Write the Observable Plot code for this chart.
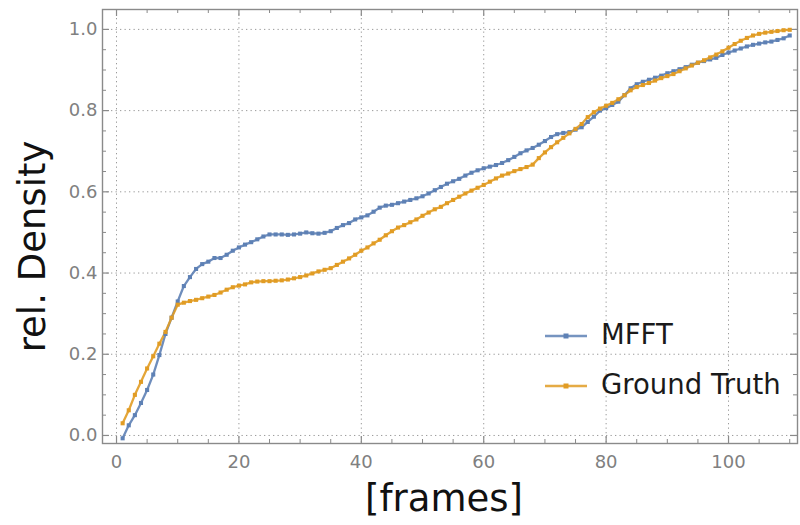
<!DOCTYPE html>
<html><head><meta charset="utf-8">
<script src="https://cdn.jsdelivr.net/npm/d3@7"></script>
<script src="https://cdn.jsdelivr.net/npm/@observablehq/plot@0.6"></script>
<style>
body{margin:0;background:#fff;}
#wrap{position:relative;width:800px;height:525px;overflow:hidden;}
#legend{position:absolute;left:0;top:0;pointer-events:none;}
</style></head><body><div id="wrap"></div>
<script>
// ---- data ----
const seriesNames = ["MFFT", "Ground Truth"];
const seriesColors = ["#5E81B5", "#E19C24"];
const frames = d3.range(1, 111);
const mfft = [
 -0.007,0.025,0.05,0.08,0.112,0.15,0.198,0.25,0.29,0.33,
 0.368,0.39,0.41,0.422,0.428,0.437,0.437,0.445,0.455,0.463,
 0.47,0.476,0.483,0.49,0.495,0.495,0.495,0.494,0.495,0.497,
 0.5,0.498,0.497,0.499,0.503,0.511,0.518,0.523,0.532,0.537,
 0.542,0.551,0.561,0.566,0.568,0.572,0.576,0.58,0.584,0.589,
 0.596,0.604,0.612,0.62,0.626,0.632,0.64,0.647,0.653,0.658,
 0.662,0.666,0.671,0.678,0.686,0.695,0.702,0.708,0.716,0.725,
 0.735,0.742,0.745,0.747,0.753,0.759,0.772,0.785,0.8,0.806,
 0.814,0.822,0.838,0.855,0.865,0.871,0.876,0.881,0.886,0.892,
 0.897,0.902,0.907,0.913,0.918,0.922,0.926,0.93,0.937,0.943,
 0.948,0.953,0.958,0.962,0.965,0.968,0.97,0.974,0.978,0.985
];
const groundTruth = [
 0.03,0.062,0.1,0.132,0.165,0.195,0.226,0.255,0.29,0.322,
 0.327,0.331,0.334,0.338,0.342,0.346,0.352,0.359,0.365,0.369,
 0.372,0.377,0.379,0.38,0.38,0.381,0.382,0.384,0.387,0.39,
 0.394,0.399,0.404,0.408,0.412,0.42,0.428,0.436,0.445,0.455,
 0.463,0.473,0.482,0.493,0.503,0.512,0.518,0.525,0.532,0.541,
 0.549,0.557,0.563,0.572,0.58,0.588,0.596,0.603,0.61,0.617,
 0.625,0.633,0.64,0.645,0.651,0.656,0.661,0.667,0.683,0.697,
 0.71,0.722,0.733,0.744,0.755,0.767,0.784,0.796,0.805,0.812,
 0.819,0.828,0.838,0.85,0.858,0.863,0.868,0.874,0.88,0.885,
 0.89,0.897,0.904,0.911,0.918,0.924,0.931,0.938,0.946,0.955,
 0.964,0.972,0.979,0.985,0.989,0.992,0.994,0.996,0.998,0.999
];
const xMajor = [0, 20, 40, 60, 80, 100];
const xMinor = [5,10,15,25,30,35,45,50,55,65,70,75,85,90,95,105,110];
const yMajor = [0, 0.2, 0.4, 0.6, 0.8, 1.0];
const yMinor = [0.05,0.1,0.15,0.25,0.3,0.35,0.45,0.5,0.55,0.65,0.7,0.75,0.85,0.9,0.95];
const xTitle = "[frames]";
const yTitle = "rel. Density";

// ---- build ----
const rows = [
  ...frames.map((f, i) => ({frame: f, value: mfft[i], series: seriesNames[0]})),
  ...frames.map((f, i) => ({frame: f, value: groundTruth[i], series: seriesNames[1]}))
];
const W = 800, H = 525, mL = 102, mR = 3, mT = 9, mB = 82;
const iw = W - mL - mR, ih = H - mT - mB;
const axisGray = "#8a8a8a";
const font = "DejaVu Sans, sans-serif";

const chart = Plot.plot({
  width: W, height: H,
  marginLeft: mL, marginRight: mR, marginTop: mT, marginBottom: mB,
  style: {fontFamily: font, background: "white", overflow: "visible"},
  x: {domain: [-2.29, 111.27]},
  y: {domain: [-0.0198, 1.049]},
  color: {domain: seriesNames, range: seriesColors},
  marks: [
    Plot.gridX(xMajor, {stroke: "#9a9a9a", strokeOpacity: 1, strokeDasharray: "1.3,3.2", strokeWidth: 1}),
    Plot.gridY(yMajor, {stroke: "#9a9a9a", strokeOpacity: 1, strokeDasharray: "1.3,3.2", strokeWidth: 1}),
    Plot.tickX(xMajor, {x: d => d, insetTop: ih - 7, stroke: axisGray, strokeWidth: 1.2}),
    Plot.tickX(xMajor, {x: d => d, insetBottom: ih - 7, stroke: axisGray, strokeWidth: 1.2}),
    Plot.tickX(xMinor, {x: d => d, insetTop: ih - 4, stroke: axisGray, strokeWidth: 1}),
    Plot.tickX(xMinor, {x: d => d, insetBottom: ih - 4, stroke: axisGray, strokeWidth: 1}),
    Plot.tickY(yMajor, {y: d => d, insetRight: iw - 7, stroke: axisGray, strokeWidth: 1.2}),
    Plot.tickY(yMajor, {y: d => d, insetLeft: iw - 7, stroke: axisGray, strokeWidth: 1.2}),
    Plot.tickY(yMinor, {y: d => d, insetRight: iw - 4, stroke: axisGray, strokeWidth: 1}),
    Plot.tickY(yMinor, {y: d => d, insetLeft: iw - 4, stroke: axisGray, strokeWidth: 1}),
    Plot.frame({stroke: axisGray, strokeWidth: 1.4}),
    Plot.line(rows, {x: "frame", y: "value", z: "series", stroke: "series", strokeWidth: 2.3, strokeOpacity: 0.9}),
    Plot.dot(rows, {x: "frame", y: "value", fill: "series", r: 2.3, symbol: "square"}),
    Plot.axisX(xMajor, {tickSize: 0, tickPadding: 12, fontSize: 18, fill: "#808080", label: null}),
    Plot.axisY(yMajor, {tickSize: 0, tickPadding: 5, fontSize: 18, fill: "#808080", label: null, tickFormat: d3.format(".1f")}),
    Plot.text([xTitle], {frameAnchor: "bottom", textAnchor: "middle", lineAnchor: "middle", dy: 56, dx: -6, fontSize: 37, fill: "#111", text: d => d}),
    Plot.text([yTitle], {frameAnchor: "left", textAnchor: "middle", lineAnchor: "middle", rotate: -90, dx: -69, dy: 20, fontSize: 37, fill: "#111", text: d => d})
  ]
});
const wrap = document.getElementById("wrap");
wrap.appendChild(chart);

// ---- legend overlay ----
const ns = "http://www.w3.org/2000/svg";
const leg = document.createElementNS(ns, "svg");
leg.setAttribute("id", "legend");
leg.setAttribute("width", W);
leg.setAttribute("height", H);
const legY = [336, 386];
seriesNames.forEach((name, i) => {
  const g = document.createElementNS(ns, "g");
  const ln = document.createElementNS(ns, "line");
  ln.setAttribute("x1", 545); ln.setAttribute("x2", 587);
  ln.setAttribute("y1", legY[i]); ln.setAttribute("y2", legY[i]);
  ln.setAttribute("stroke", seriesColors[i]); ln.setAttribute("stroke-width", 2.6);
  ln.setAttribute("stroke-opacity", 0.85);
  const dt = document.createElementNS(ns, "rect");
  dt.setAttribute("x", 563.5); dt.setAttribute("y", legY[i] - 2.5);
  dt.setAttribute("width", 5); dt.setAttribute("height", 5);
  dt.setAttribute("fill", seriesColors[i]);
  const tx = document.createElementNS(ns, "text");
  tx.setAttribute("x", 601); tx.setAttribute("y", legY[i] - 2);
  tx.setAttribute("dominant-baseline", "central");
  tx.setAttribute("font-family", font);
  tx.setAttribute("font-size", 27.5);
  tx.setAttribute("fill", "#1a1a1a");
  tx.textContent = name;
  g.append(ln, dt, tx);
  leg.appendChild(g);
});
wrap.appendChild(leg);
</script></body></html>
